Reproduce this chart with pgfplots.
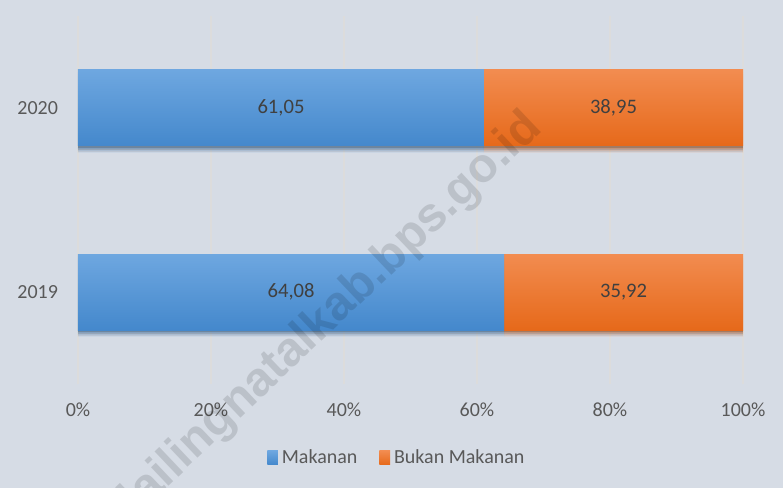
\documentclass[border=0pt]{standalone}
\usepackage{pgfplots}
\usepackage{pgfplotstable}
\pgfplotsset{compat=1.18}
\usepackage{fontspec}
\setmainfont{Carlito}
\newfontfamily\wmfont{Liberation Sans}
\definecolor{bg}{HTML}{D6DCE5}
\definecolor{bluetop}{HTML}{6EA7E0}
\definecolor{bluebot}{HTML}{4488CC}
\definecolor{orgtop}{HTML}{F28C50}
\definecolor{orgbot}{HTML}{E6691A}
\definecolor{tickc}{HTML}{595959}
\definecolor{labc}{HTML}{404040}
\definecolor{gridc}{HTML}{DCDCDC}

% 2019
\pgfplotstableread{
year makanan bukan
0 64.08 35.92
}\dataA
% 2020
\pgfplotstableread{
year makanan bukan
1 61.05 38.95
}\dataB

\pgfplotstableread{
x y label
32.04 0 64,08
82.04 0 35,92
30.525 1 61,05
80.525 1 38,95
}\labeltable

\tikzset{barshadow/.style={
  preaction={fill=black,opacity=0.08,transform canvas={yshift=-3.2pt}},
  preaction={fill=black,opacity=0.13,transform canvas={yshift=-2.2pt}},
  preaction={fill=black,opacity=0.2,transform canvas={yshift=-1.2pt}}}}

\pgfplotsset{base/.style={at={(0,0)}, anchor=south west, scale only axis,
  width=332.5pt, height=184pt,
  xmin=0, xmax=100, ymin=-0.5, ymax=1.5}}

\begin{document}
\begin{tikzpicture}[font=\fontsize{10}{12}\selectfont]
\path[fill=bg, use as bounding box] (-39pt,-52pt) rectangle (352.5pt,192pt);
% axis with ticks, grid and the 2019 bar
\begin{axis}[base,
  xbar stacked, bar width=38pt,
  ytick={0,1}, yticklabels={2019,2020},
  xtick={0,20,40,60,80,100},
  xticklabels={0\%,20\%,40\%,60\%,80\%,100\%},
  axis line style={draw=none}, major tick length=0pt,
  xmajorgrids, grid style={gridc, line width=0.6pt},
  ticklabel style={text=tickc},
  yticklabel style={xshift=-6.5pt},
  xticklabel style={yshift=-6pt},
]
\addplot[draw=none, top color=bluetop, bottom color=bluebot, barshadow]
  table[x=makanan,y=year]{\dataA};
\addplot[draw=none, top color=orgtop, bottom color=orgbot, barshadow]
  table[x=bukan,y=year]{\dataA};
\end{axis}
% 2020 bar
\begin{axis}[base, hide axis, xbar stacked, bar width=38pt]
\addplot[draw=none, top color=bluetop, bottom color=bluebot, barshadow]
  table[x=makanan,y=year]{\dataB};
\addplot[draw=none, top color=orgtop, bottom color=orgbot, barshadow]
  table[x=bukan,y=year]{\dataB};
\end{axis}
% data labels and legend
\begin{axis}[base, hide axis,
  legend style={draw=none, fill=none, at={(0.481,-0.201)}, anchor=center,
    legend columns=2, text=tickc, font=\fontsize{10}{12}\selectfont,
    /tikz/every even column/.append style={column sep=9pt}},
  legend cell align=left]
\addlegendimage{legend image code/.code={\path[draw=none,top color=bluetop,bottom color=bluebot] (0pt,-3.4pt) rectangle (5.3pt,3.6pt);}}
\addlegendentry{Makanan}
\addlegendimage{legend image code/.code={\path[draw=none,top color=orgtop,bottom color=orgbot] (0pt,-3.4pt) rectangle (5.3pt,3.6pt);}}
\addlegendentry{Bukan Makanan}
\addplot[draw=none, mark=none, nodes near coords, point meta=explicit symbolic,
  nodes near coords align=center, forget plot,
  every node near coord/.append style={text=labc, anchor=center,
    font=\fontsize{10.3}{12}\selectfont}]
  table[x=x,y=y,meta=label]{\labeltable};
\end{axis}
\node[rotate=43.5, anchor=base east, font=\wmfont\bfseries\fontsize{24}{28}\selectfont,
  text=black, opacity=0.12, inner sep=0pt] at (233pt,127pt) {mandailingnatalkab.bps.go.id};
\end{tikzpicture}
\end{document}
